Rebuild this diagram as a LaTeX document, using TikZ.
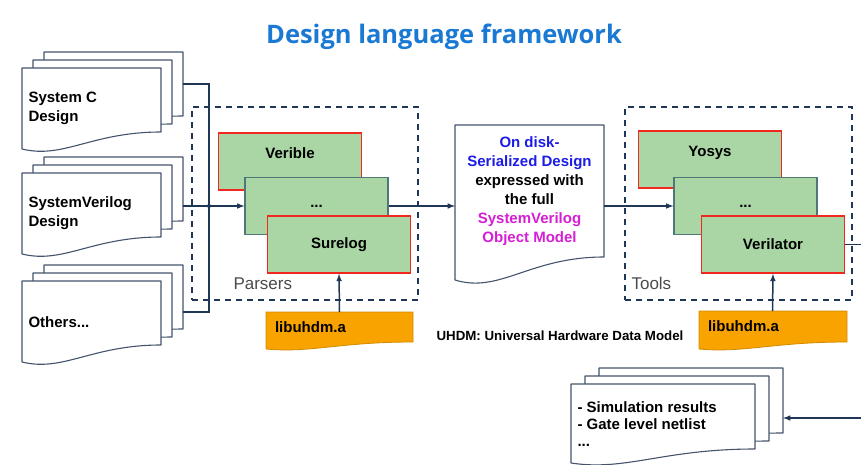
\documentclass[tikz,border=0pt]{standalone}
\usepackage{fontspec}
\setmainfont{Liberation Sans}
\newfontfamily\titlefont{Open Sans}
\usetikzlibrary{calc}

\definecolor{wirecol}{HTML}{1F3656}
\definecolor{sheetcol}{HTML}{44546C}
\definecolor{toolfill}{HTML}{A9D6A4}
\definecolor{toolred}{HTML}{F0281E}
\definecolor{midedge}{HTML}{4E7878}
\definecolor{libfill}{HTML}{F8A300}
\definecolor{titleblue}{HTML}{1A79D2}
\definecolor{diskblue}{HTML}{1C1CE8}
\definecolor{diskpink}{HTML}{D51ED5}
\definecolor{labelgray}{HTML}{4A4A4A}

\newcommand{\sheet}[6][sheetline]{%
  \draw[#1] (#2,#3) -- (#2+#4,#3) -- (#2+#4,#3+#5-#6)
    .. controls (#2+0.5*#4,#3+#5-#6) and (#2+0.3*#4,#3+#5+0.6*#6) .. (#2,#3+#5) -- cycle;}
\newcommand{\sheetstack}[6]{%
  \sheet{#1+2*#6}{#2-16}{#3}{#4}{#5}
  \sheet{#1+#6}{#2-8}{#3}{#4}{#5}
  \sheet{#1}{#2}{#3}{#4}{#5}}

\begin{document}
\begin{tikzpicture}[
    x=1pt, y=-1pt,
    every node/.style={font=\bfseries\fontsize{15}{19}\selectfont},
    sheetline/.style={draw=sheetcol, fill=white, line width=1.1pt, line join=round},
    libsheet/.style={draw=libfill!85!black, fill=libfill, line width=0.8pt},
    hit/.style={inner sep=0pt, outer sep=0pt, anchor=north west},
    tool/.style={draw=toolred, fill=toolfill, line width=1.6pt,
        minimum width=143pt, minimum height=57pt, inner sep=0pt},
    toolmid/.style={tool, draw=midedge, line width=1.1pt},
    group/.style={draw=wirecol, dash pattern=on 6pt off 5pt, line width=1.5pt},
    grouplabel/.style={anchor=west, font=\fontsize{17}{19}\selectfont, text=labelgray},
    libnode/.style={hit, inner xsep=9pt, text width=129pt, align=left, minimum height=30pt},
    wire/.style={draw=wirecol, line width=1.5pt},
    arrow/.style={wire, ->, >=latex}
]
\useasboundingbox (0,0) rectangle (861,465);
\clip (0,0) rectangle (861,465);

\node[font=\titlefont\bfseries\fontsize{25.5}{30}\selectfont, text=titleblue] (title) at (444,37) {Design language framework};

\sheetstack{22}{68}{139}{81}{17}{11}
\sheetstack{22}{173}{139}{81}{17}{11}
\sheetstack{22}{281}{139}{81}{17}{11}
\node[hit, minimum width=139pt, minimum height=64pt] (scdoc) at (44,52) {};
\node[hit, minimum width=139pt, minimum height=64pt] (svdoc) at (44,157) {};
\node[hit, minimum width=139pt, minimum height=64pt] (othdoc) at (44,265) {};
\node[anchor=west, align=left] (sctext) at (25,108) {System C\\Design};
\node[anchor=west, align=left] (svtext) at (25,213) {SystemVerilog\\Design};
\node[anchor=west] (othtext) at (25,322) {Others...};

\node[group, minimum width=226pt, minimum height=193pt] (parsers) at (305,203.5) {};
\node[grouplabel] (parserslabel) at (230,284) {Parsers};
\node[tool] (verible) at (290,161.5) {\raisebox{16pt}{Verible}};
\node[toolmid] (pmid) at (316.5,206) {...};
\node[tool] (surelog) at (339,244.5) {Surelog};

\sheet[libsheet]{266}{312}{147}{37}{7}
\node[libnode] (libL) at (266,312) {libuhdm.a};

\sheet{455}{125}{149}{155}{23}
\node[hit, minimum width=149pt, minimum height=132pt, align=center] (disk) at (455,125)
    {\textcolor{diskblue}{On disk-}\\\textcolor{diskblue}{Serialized Design}\\expressed with\\the full\\
     \textcolor{diskpink}{SystemVerilog}\\\textcolor{diskpink}{Object Model}};

\node[font=\bfseries\fontsize{13.3}{16}\selectfont] (uhdm) at (560,336) {UHDM: Universal Hardware Data Model};

\node[group, minimum width=227pt, minimum height=193pt] (tools) at (738.5,203.5) {};
\node[grouplabel] (toolslabel) at (628,283) {Tools};
\node[tool] (yosys) at (710,159.5) {\raisebox{16pt}{Yosys}};
\node[toolmid] (tmid) at (745.5,206) {...};
\node[tool] (verilator) at (773,244.5) {Verilator};

\sheet[libsheet]{699}{311}{148}{38}{7}
\node[libnode] (libR) at (699,311) {libuhdm.a};

\sheetstack{571}{384}{184}{79}{14}{14}
\node[hit, minimum width=184pt, minimum height=65pt] (outdoc) at (599,368) {};
\node[anchor=west, align=left, font=\bfseries\fontsize{15}{17}\selectfont] (outtext) at (574,424) {- Simulation results\\- Gate level netlist\\...};

\coordinate (bustop) at (209,84);
\coordinate (busbot) at (209,312);
\coordinate (offright) at (875,418);
\draw[wire] (scdoc.east) -- (bustop) -- (busbot) -- (busbot -| othdoc.east);
\draw[arrow] (svdoc.east |- pmid.west) -- (pmid.west);
\fill[wirecol] (bustop |- pmid.west) circle (2pt);
\draw[arrow] (libL.north) -- (surelog.south);
\draw[arrow] (pmid.east) -- (pmid.east -| disk.west);
\draw[arrow] (disk.east |- tmid.west) -- (tmid.west);
\draw[arrow] (libR.north) -- (verilator.south);
\draw[arrow] (verilator.east) -| (offright) -- (offright -| outdoc.east);

\end{tikzpicture}
\end{document}
